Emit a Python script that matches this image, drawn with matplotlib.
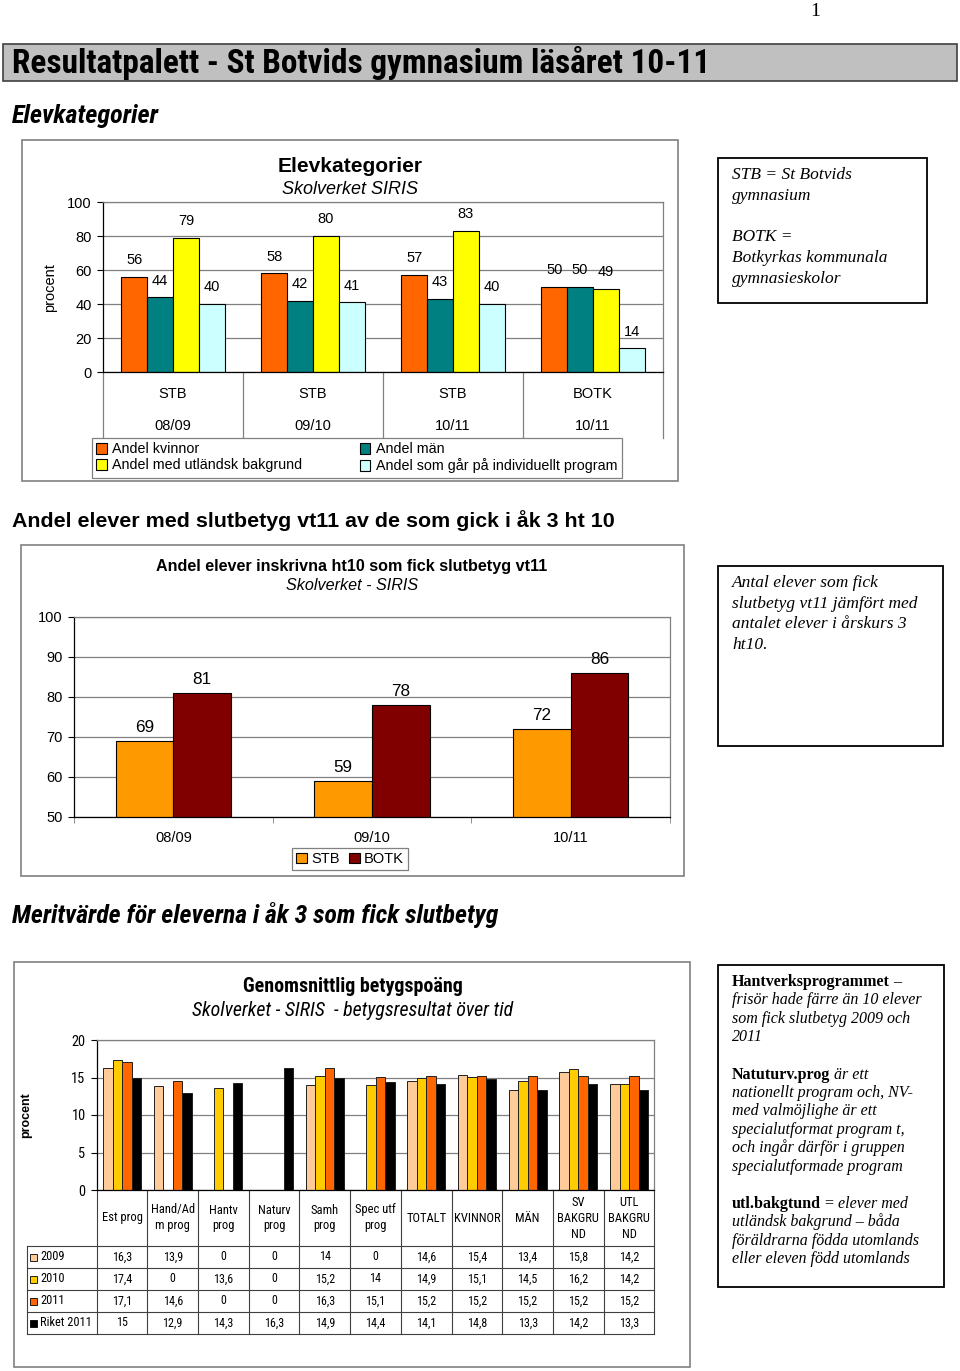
import matplotlib
matplotlib.use('Agg')
import matplotlib.pyplot as plt
from matplotlib import font_manager, transforms
from matplotlib.patches import Rectangle, Patch
import numpy as np

# ---------------- data ----------------
# Chart 1: Elevkategorier
cat1_group = ['STB', 'STB', 'STB', 'BOTK']
cat1_year = ['08/09', '09/10', '10/11', '10/11']
andel_kvinnor = [56, 58, 57, 50]
andel_man = [44, 42, 43, 50]
andel_utl = [79, 80, 83, 49]
andel_indiv = [40, 41, 40, 14]
series1_names = ['Andel kvinnor', 'Andel män', 'Andel med utländsk bakgrund',
                 'Andel som går på individuellt program']
y1_ticks = [0, 20, 40, 60, 80, 100]

# Chart 2: Andel elever med slutbetyg
years2 = ['08/09', '09/10', '10/11']
stb2 = [69, 59, 72]
botk2 = [81, 78, 86]
series2_names = ['STB', 'BOTK']
y2_ticks = [50, 60, 70, 80, 90, 100]

# Chart 3: Genomsnittlig betygspoäng
cats3 = ['Est prog', 'Hand/Ad\nm prog', 'Hantv\nprog', 'Naturv\nprog', 'Samh\nprog',
         'Spec utf\nprog', 'TOTALT', 'KVINNOR', 'MÄN', 'SV\nBAKGRU\nND', 'UTL\nBAKGRU\nND']
v2009 = [16.3, 13.9, 0, 0, 14, 0, 14.6, 15.4, 13.4, 15.8, 14.2]
v2010 = [17.4, 0, 13.6, 0, 15.2, 14, 14.9, 15.1, 14.5, 16.2, 14.2]
v2011 = [17.1, 14.6, 0, 0, 16.3, 15.1, 15.2, 15.2, 15.2, 15.2, 15.2]
riket2011 = [15, 12.9, 14.3, 16.3, 14.9, 14.4, 14.1, 14.8, 13.3, 14.2, 13.3]
rows3 = ['2009', '2010', '2011', 'Riket 2011']
y3_ticks = [0, 5, 10, 15, 20]

# ---------------- setup ----------------
W, H = 960, 1371
names = {f.name for f in font_manager.fontManager.ttflist}
SANS = 'Liberation Sans'
NARROW = SANS
for cand in ['Liberation Sans Narrow', 'Roboto Condensed', 'Open Sans Condensed',
             'DejaVu Sans Condensed']:
    if cand in names:
        NARROW = cand
        break
SERIF = 'Liberation Serif'
plt.rcParams['font.family'] = [SANS, 'DejaVu Sans']

fig = plt.figure(figsize=(W / 100, H / 100), dpi=100)
fig.patch.set_facecolor('white')
bg = fig.add_axes([0, 0, 1, 1], zorder=0)
bg.set_xlim(0, W)
bg.set_ylim(H, 0)
bg.axis('off')
renderer = fig.canvas.get_renderer()


def pax(x0, y0, x1, y1):
    ax = fig.add_axes([x0 / W, 1 - y1 / H, (x1 - x0) / W, (y1 - y0) / H], zorder=2)
    ax.patch.set_alpha(0)
    return ax


def fit(t, width):
    w = t.get_window_extent(renderer).width
    t.set_fontsize(t.get_fontsize() * width / w)
    return t


def fit_size(s, width, **kw):
    t = bg.text(0, 0, s, fontsize=10, **kw)
    w = t.get_window_extent(renderer).width
    t.remove()
    return 10 * width / w


def txt(x, y, s, size=10, ha='left', va='center', **kw):
    return bg.text(x, y, s, fontsize=size, ha=ha, va=va, **kw)


def frame(x0, y0, x1, y1, ec='#808080', lw=1.2):
    bg.add_patch(Rectangle((x0, y0), x1 - x0, y1 - y0, facecolor='white',
                           edgecolor=ec, lw=lw, zorder=0))


def style_axes(ax, tick_size, family=SANS):
    for s in ['top', 'right']:
        ax.spines[s].set_color('#808080')
    for s in ['left', 'bottom']:
        ax.spines[s].set_color('black')
    for s in ax.spines.values():
        s.set_linewidth(0.9)
    ax.yaxis.grid(True, color='#808080', lw=0.9)
    ax.set_axisbelow(True)
    ax.tick_params(axis='y', length=4, width=0.8, pad=4, labelsize=tick_size)
    for lab in ax.get_yticklabels():
        lab.set_family(family)


def mixed_line(x, y, parts, size):
    for s, style, weight in parts:
        t = txt(x, y, s, size, family=SERIF, style=style, weight=weight)
        x += t.get_window_extent(renderer).width


# ---------------- page header ----------------
txt(815, 12, '1', 14, ha='center', family=SERIF)
bg.add_patch(Rectangle((3, 44), 954, 37, facecolor='#C0C0C0', edgecolor='#404040', lw=1.2))
fit(txt(12, 63, 'Resultatpalett - St Botvids gymnasium läsåret 10-11', 20,
        family=NARROW, weight='bold'), 696)
fit(txt(12, 116, 'Elevkategorier', 15, family=NARROW, weight='bold', style='italic'), 148)

# ---------------- chart 1 ----------------
frame(22, 140, 678, 481)
fit(txt(350, 166, 'Elevkategorier', 15, ha='center', weight='bold'), 146)
fit(txt(350, 190, 'Skolverket SIRIS', 12, ha='center', style='italic'), 136)
txt(50, 288, 'procent', 10.5, ha='center', rotation=90)

ax1 = pax(103, 202, 663, 372)
x1 = np.arange(len(cat1_group))
w1 = 0.184
cols1 = ['#FF6600', '#008080', '#FFFF00', '#CCFFFF']
ser1 = [andel_kvinnor, andel_man, andel_utl, andel_indiv]
for i, (vals, c) in enumerate(zip(ser1, cols1)):
    bars = ax1.bar(x1 + (i - 1.5) * w1, vals, w1, color=c, edgecolor='black', lw=0.8)
    for r, v in zip(bars, vals):
        ax1.annotate(str(v), (r.get_x() + w1 / 2, v), xytext=(0, 12),
                     textcoords='offset points', ha='center', va='center', fontsize=10.5)
ax1.set_yticks(y1_ticks)
ax1.set_xticks([])
style_axes(ax1, 10.5)
tr1 = transforms.blended_transform_factory(ax1.transData, bg.transData)
for i in x1:
    ax1.text(i, 394, cat1_group[i], transform=tr1, ha='center', va='center', fontsize=10.5)
    ax1.text(i, 426, cat1_year[i], transform=tr1, ha='center', va='center', fontsize=10.5)
for b in np.arange(-0.5, len(cat1_group) + 0.5):
    ax1.plot([b, b], [372, 438], transform=tr1, color='#808080', lw=0.9, clip_on=False)
ax1.set_xlim(-0.5, len(cat1_group) - 0.5)
ax1.set_ylim(0, 100)

h1 = [Patch(facecolor=c, edgecolor='black', lw=0.8) for c in cols1]
order = [0, 2, 1, 3]
leg1 = ax1.legend([h1[k] for k in order], [series1_names[k] for k in order], ncol=2,
                  mode='expand', loc='upper left',
                  bbox_to_anchor=(91.7 / W, 1 - 478 / H, (622 - 91.7) / W, 40 / H),
                  bbox_transform=fig.transFigure, fontsize=10.3, frameon=True,
                  fancybox=False, edgecolor='#808080', framealpha=1, borderpad=0.3,
                  handlelength=0.75, handleheight=0.75, handletextpad=0.4,
                  labelspacing=0.15, borderaxespad=0)
leg1.get_frame().set_linewidth(0.9)

# text box 1
frame(718, 158, 927, 303, ec='black', lw=1.3)
for y, s in [(175, 'STB = St Botvids'), (196, 'gymnasium'), (237, 'BOTK ='),
             (258, 'Botkyrkas kommunala'), (279, 'gymnasieskolor')]:
    txt(732, y, s, 12.5, family=SERIF, style='italic')

# ---------------- chart 2 ----------------
fit(txt(12, 521, 'Andel elever med slutbetyg vt11 av de som gick i åk 3 ht 10', 14,
        family=SANS, weight='bold'), 600)
frame(21, 545, 684, 876)
fit(txt(352, 566, 'Andel elever inskrivna ht10 som fick slutbetyg vt11', 12,
        ha='center', weight='bold'), 390)
fit(txt(352, 586, 'Skolverket - SIRIS', 12, ha='center', style='italic'), 132)

ax2 = pax(74, 617, 670, 817)
x2 = np.arange(len(years2))
w2 = 0.29
cols2 = ['#FF9900', '#800000']
for i, (vals, c) in enumerate(zip([stb2, botk2], cols2)):
    bars = ax2.bar(x2 + (i - 0.5) * w2, vals, w2, color=c, edgecolor='black', lw=0.8,
                   label=series2_names[i])
    for r, v in zip(bars, vals):
        ax2.annotate(str(v), (r.get_x() + w2 / 2, v), xytext=(0, 10),
                     textcoords='offset points', ha='center', va='center', fontsize=12.3)
ax2.set_yticks(y2_ticks)
ax2.set_xticks(x2, years2)
ax2.set_xticks(np.arange(-0.5, len(years2)), minor=True)
ax2.tick_params(axis='x', which='major', length=0, pad=10, labelsize=10.5)
ax2.tick_params(axis='x', which='minor', length=4, color='#808080')
style_axes(ax2, 10.5)
ax2.set_xlim(-0.5, len(years2) - 0.5)
ax2.set_ylim(50, 100)
leg2 = ax2.legend(ncol=2, loc='center', bbox_to_anchor=(350 / W, 1 - 859 / H),
                  bbox_transform=fig.transFigure, fontsize=10.5, frameon=True,
                  fancybox=False, edgecolor='#808080', framealpha=1, borderpad=0.25,
                  handlelength=0.75, handleheight=0.75, handletextpad=0.3,
                  columnspacing=0.6, borderaxespad=0)
leg2.get_frame().set_linewidth(0.9)

frame(718, 566, 943, 746, ec='black', lw=1.3)
for y, s in [(583, 'Antal elever som fick'), (604, 'slutbetyg vt11 jämfört med'),
             (624, 'antalet elever i årskurs 3'), (645, 'ht10.')]:
    txt(732, y, s, 12.5, family=SERIF, style='italic')

# ---------------- chart 3 ----------------
fit(txt(12, 915, 'Meritvärde för eleverna i åk 3 som fick slutbetyg', 14,
        family=NARROW, weight='bold', style='italic'), 488)
frame(14, 962, 690, 1367)
fit(txt(353, 987, 'Genomsnittlig betygspoäng', 14, ha='center', family=NARROW,
        weight='bold'), 221)
fit(txt(353, 1011, 'Skolverket - SIRIS  - betygsresultat över tid', 13, ha='center',
        family=NARROW, style='italic'), 320)
txt(26, 1115, 'procent', 9, ha='center', rotation=90, weight='bold')

ax3 = pax(96.7, 1040, 654.4, 1190)
x3 = np.arange(len(cats3))
w3 = 0.1875
cols3 = ['#FFCC99', '#FFCC00', '#FF6600', '#000000']
ser3 = [v2009, v2010, v2011, riket2011]
for i, (vals, c) in enumerate(zip(ser3, cols3)):
    ax3.bar(x3 + (i - 1.5) * w3, vals, w3, color=c, edgecolor='#202020', lw=0.7)
ax3.set_yticks(y3_ticks)
ax3.set_xticks([])
tick3 = min(fit_size('20', 14, family=NARROW), 11)
style_axes(ax3, tick3, NARROW)

hdr_size = min(fit_size('BAKGRU', 42, family=NARROW), 9.5)
val_size = min(fit_size('16,3', 20, family=NARROW), 9.5)
row_size = min(fit_size('Riket 2011', 51, family=NARROW), 9.5)

tr3 = transforms.blended_transform_factory(ax3.transData, bg.transData)
for i, lab in enumerate(cats3):
    ax3.text(i, 1218, lab, transform=tr3, ha='center', va='center', fontsize=hdr_size,
             family=NARROW, linespacing=1.3)


def sv(v):
    return ('%g' % v).replace('.', ',')


row_y = [1257, 1279, 1301, 1323]
for r, (name, vals, c) in enumerate(zip(rows3, ser3, cols3)):
    y = row_y[r]
    bg.add_patch(Rectangle((30, y - 3.5), 7, 7, facecolor=c, edgecolor='black', lw=0.6))
    txt(40, y, name, row_size, family=NARROW)
    for i, v in enumerate(vals):
        ax3.text(i, y, sv(v), transform=tr3, ha='center', va='center', fontsize=val_size,
                 family=NARROW)
for y in [1246, 1268, 1290, 1312, 1334]:
    bg.plot([27, 654.4], [y, y], color='#404040', lw=0.8)
bg.plot([27, 27], [1246, 1334], color='#404040', lw=0.8)
for b in np.arange(-0.5, len(cats3) + 0.5):
    ax3.plot([b, b], [1190, 1334], transform=tr3, color='#404040', lw=0.8, clip_on=False)
ax3.set_xlim(-0.5, len(cats3) - 0.5)
ax3.set_ylim(0, 20)

frame(718, 965, 944, 1287, ec='black', lw=1.3)
S3 = 11.5
mixed_line(732, 982, [('Hantverksprogrammet', 'normal', 'bold'), (' –', 'normal', 'normal')], S3)
for y, s in [(1000, 'frisör hade färre än 10 elever'), (1019, 'som fick slutbetyg 2009 och'),
             (1037, '2011')]:
    txt(732, y, s, S3, family=SERIF, style='italic')
mixed_line(732, 1075, [('Natuturv.prog', 'normal', 'bold'), (' är ett', 'italic', 'normal')], S3)
for y, s in [(1093, 'nationellt program och, NV-'), (1111, 'med valmöjlighe är ett'),
             (1130, 'specialutformat program t,'), (1148, 'och ingår därför i gruppen'),
             (1167, 'specialutformade program')]:
    txt(732, y, s, S3, family=SERIF, style='italic')
mixed_line(732, 1204, [('utl.bakgtund', 'normal', 'bold'), (' = ', 'normal', 'normal'),
                       ('elever med', 'italic', 'normal')], S3)
for y, s in [(1222, 'utländsk bakgrund – båda'), (1241, 'föräldrarna födda utomlands'),
             (1259, 'eller eleven född utomlands')]:
    txt(732, y, s, S3, family=SERIF, style='italic')

fig.savefig('out.png', dpi=100, facecolor='white')
